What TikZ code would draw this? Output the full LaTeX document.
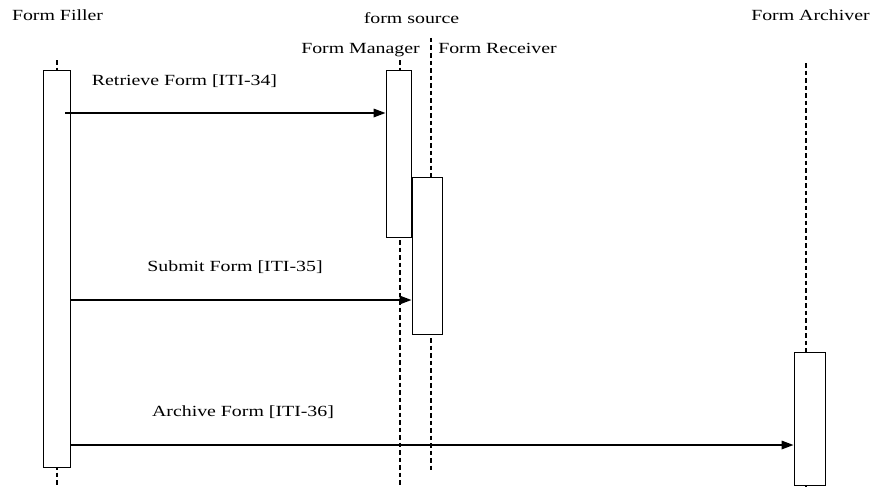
\documentclass[tikz,border=0pt]{standalone}
\usepackage{fontspec}
\setmainfont{Liberation Serif}[FakeStretch=1.28]
\usepackage{tikz}
\usetikzlibrary{arrows.meta, calc}
\newcommand{\seqfont}{\fontsize{15.5}{18}\selectfont}
\tikzset{
    % simple styles for the sequence diagram
    actor/.style = {font=\seqfont, inner sep=0pt, anchor=base},
    msglabel/.style = {font=\seqfont, inner sep=0pt, anchor=base},
    activation/.style = {rectangle, draw=black, fill=white, line width=0.9pt, inner sep=0pt},
    lifeline/.style = {line width=1.7pt, dash pattern=on 4.5pt off 3pt},
    arrow/.style = {line width=1.7pt, -{Triangle[length=12pt, width=8.5pt]}}
}

\begin{document}
\begin{tikzpicture}[x=1pt, y=-1pt]
\useasboundingbox (0,0) rectangle (874,487);

% actors
\node[actor] (fillername) at (57.5,21) {Form Filler};
\node[actor] (sourcename) at (411.5,24) {form source};
\node[actor] (managername) at (360.5,53) {Form Manager};
\node[actor] (receivername) at (497.5,53) {Form Receiver};
\node[actor] (archivername) at (810.5,21) {Form Archiver};

% lifeline ends
\coordinate (fillertop) at (57,60);
\coordinate (fillerend) at (57,487);
\coordinate (managertop) at (400,60);
\coordinate (managerend) at (400,486);
\coordinate (receivertop) at (431,38);
\coordinate (receiverend) at (431,472);
\coordinate (archivertop) at (806,63);
\coordinate (archiverend) at (806,487);

\draw[lifeline] (fillertop) -- (fillerend);
\draw[lifeline] (managertop) -- (managerend);
\draw[lifeline] (receivertop) -- (receiverend);
\draw[lifeline] (archivertop) -- (archiverend);

% activation boxes
\node[activation, minimum width=27pt, minimum height=397pt] (filler) at (56.5,268.5) {};
\node[activation, minimum width=25pt, minimum height=167pt] (manager) at (398.5,153.5) {};
\node[activation, minimum width=30pt, minimum height=157pt] (receiver) at (427,255.5) {};
\node[activation, minimum width=31pt, minimum height=133pt] (archiver) at (809.5,418.5) {};

% messages
\draw[arrow] ($(filler.east |- 0,113)+(-5,0)$) -- (manager.west |- 0,113);
\node[msglabel] (retrieve) at (184.5,85) {Retrieve Form [ITI-34]};

\draw[arrow] (filler.east |- 0,300) -- (receiver.west |- 0,300);
\node[msglabel] (submit) at (235,271.5) {Submit Form [ITI-35]};

\draw[arrow] (filler.east |- 0,445) -- (archiver.west |- 0,445);
\node[msglabel] (archive) at (243,416.5) {Archive Form [ITI-36]};

\end{tikzpicture}
\end{document}
